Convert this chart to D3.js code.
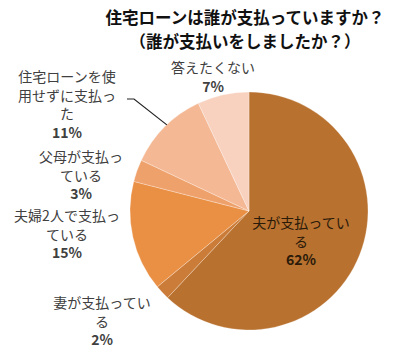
<!DOCTYPE html>
<html><head><meta charset="utf-8">
<script src="https://cdn.jsdelivr.net/npm/d3@7"></script>
<style>body{margin:0;background:#fff;}svg{display:block;}</style>
</head><body>
<svg id="c" width="411" height="356"></svg>
<script>
const titleLines = ["住宅ローンは誰が支払っていますか？", "（誰が支払いをしましたか？）"];
const categories = [["夫が支払ってい","る"],["妻が支払ってい","る"],["夫婦2人で支払っ","ている"],["父母が支払っ","ている"],["住宅ローンを使","用せずに支払っ","た"],["答えたくない"]];
const values = [62, 2, 15, 3, 11, 7];
const colors = ["#B8712F","#CB7C38","#EA9045","#EFA16C","#F4B894","#F8D2BF"];
// label layout: first-line centre for each category
const labelAnchor = [[301,222],[102,302],[67,215],[81,156],[67,76],[213,67]];

const svg = d3.select("#c");
const cx = 249, cy = 211, R = 119;
const font = "'Noto Sans CJK JP', sans-serif";

svg.selectAll("text.title").data(titleLines).join("text")
  .attr("class","title")
  .attr("x", 245).attr("y", (d,i)=>17 + i*24)
  .attr("text-anchor","middle").attr("dominant-baseline","central")
  .attr("font-family", font).attr("font-size", 16.5).attr("font-weight","bold")
  .attr("fill","#111").text(d=>d);

const pie = d3.pie().sort(null).value(d=>d)(values);
const arc = d3.arc().innerRadius(0).outerRadius(R);
const g = svg.append("g").attr("transform",`translate(${cx},${cy})`);
g.selectAll("path").data(pie).join("path")
  .attr("d", arc).attr("fill",(d,i)=>colors[i])
  .attr("stroke","rgba(255,255,255,0.35)").attr("stroke-width",0.8);

// leader line for the 11% slice
const s = pie[4];
const mid = (s.startAngle + s.endAngle)/2;
const px = cx + R*Math.sin(mid), py = cy - R*Math.cos(mid);
svg.append("polyline")
  .attr("points", `127,99 134,99 ${px+2},${py-2}`)
  .attr("fill","none").attr("stroke","#222").attr("stroke-width",1.2);

const lh = 18.5;
categories.forEach((lines,i)=>{
  const all = lines.concat([values[i]+"%"]);
  const [x,y] = labelAnchor[i];
  svg.append("g").selectAll("text").data(all).join("text")
    .attr("x", x).attr("y",(d,j)=>y + j*lh)
    .attr("text-anchor","middle").attr("dominant-baseline","central")
    .attr("font-family", font).attr("font-size", 14)
    .attr("font-weight",(d,j)=> j===all.length-1 ? "bold":"normal")
    .attr("fill", i===0 ? "#2a1a0a" : "#404040").text(d=>d);
});
</script>
</body></html>
